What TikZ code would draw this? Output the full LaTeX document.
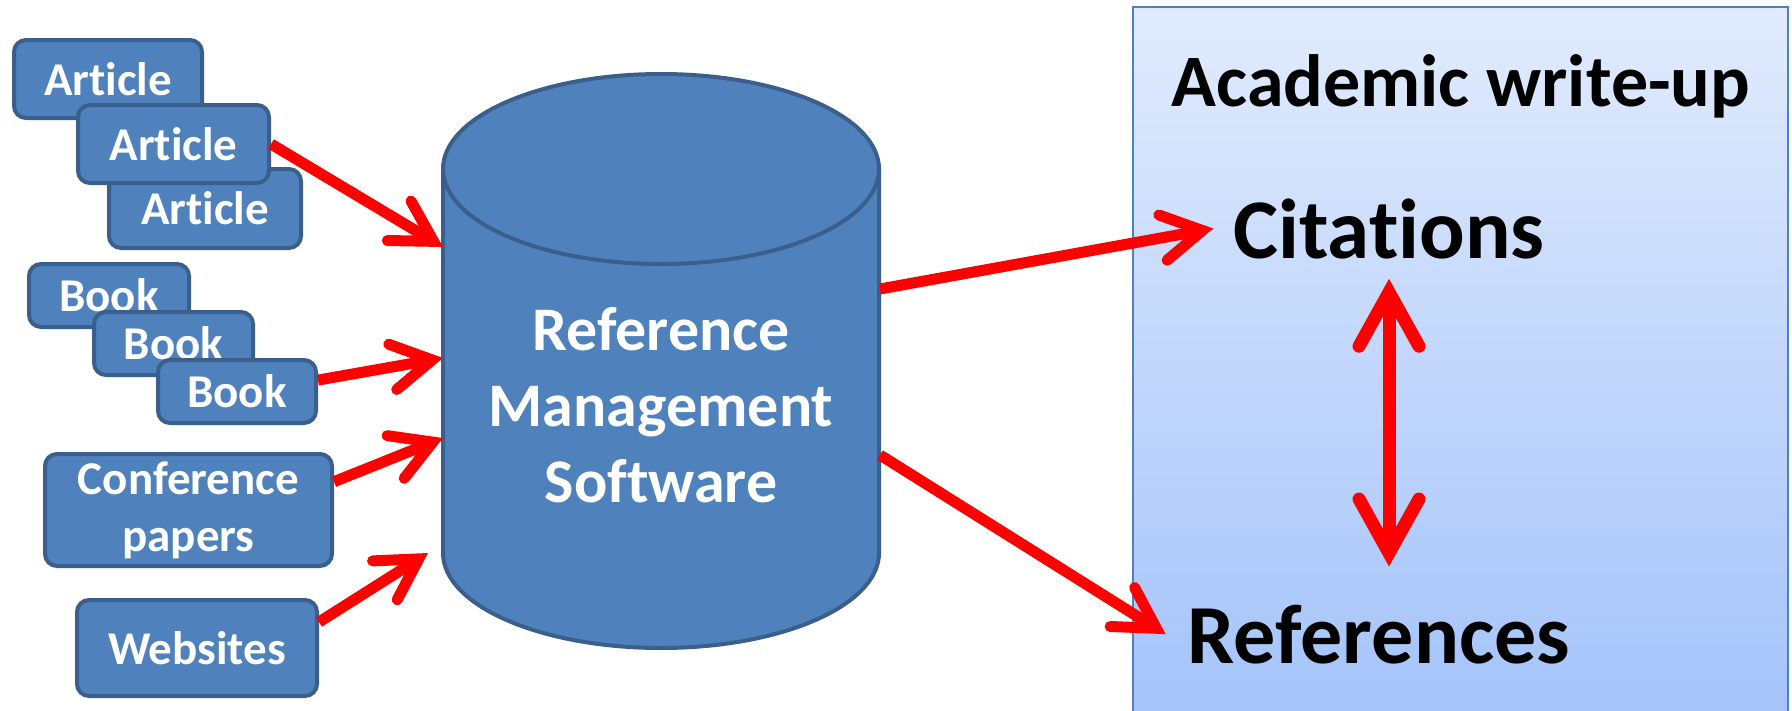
\documentclass[tikz,border=0pt]{standalone}
\usepackage{fontspec}
\setmainfont{Carlito}[Ligatures=NoCommon]
\usetikzlibrary{arrows.meta}
\definecolor{boxblue}{HTML}{4F81BD}
\definecolor{boxedge}{HTML}{3A5F8C}
\definecolor{paneltop}{HTML}{E1EBFD}
\definecolor{panelbot}{HTML}{A3C3FA}
\begin{document}
\begin{tikzpicture}[x=1pt,y=1pt,
  src/.style={draw=boxedge, fill=boxblue, line width=4pt, rounded corners=12pt,
    text=white, font=\bfseries\fontsize{47}{57}\selectfont, align=center, inner sep=0pt},
  cyl/.style={draw=boxedge, fill=boxblue, line width=4pt},
  cyltext/.style={text=white, font=\bfseries\fontsize{62}{76}\selectfont, align=center},
  panel/.style={top color=paneltop, bottom color=panelbot, draw=boxblue, line width=2.5pt},
  bigtext/.style={text=black, font=\bfseries\fontsize{#1}{#1}\selectfont, anchor=base, inner sep=20pt},
  redarr/.style={draw=red, line width=11pt,
    -{Straight Barb[length=40pt,width=46pt,line cap=round,line join=miter]}},
  dblarr/.style={draw=red, line width=13pt,
    {Straight Barb[length=54pt,width=60pt,line cap=round,line join=miter]}-{Straight Barb[length=54pt,width=60pt,line cap=round,line join=miter]}}
]
\useasboundingbox (0,0) rectangle (1792,-710);

% right panel
\path[panel] (1133,-7) rectangle (1788,-725);

% cylinder
\path[cyl] (443,-169) -- (443,-553)
  arc[start angle=180, end angle=360, x radius=218, y radius=95]
  -- (879,-169)
  arc[start angle=0, end angle=180, x radius=218, y radius=95] -- cycle;
\draw[cyl, fill=none] (443,-169) arc[start angle=180, end angle=360, x radius=218, y radius=95];
\node[cyltext] (rms) at (661,-405) {Reference\\Management\\Software};

% source boxes
\node[src, minimum width=188pt, minimum height=78pt] (art1) at (108,-79) {Article};
\node[src, minimum width=192pt, minimum height=79pt] (art3) at (205,-208.5) {Article};
\node[src, minimum width=191pt, minimum height=78pt] (art2) at (173.5,-144) {Article};
\node[src, minimum width=160pt, minimum height=63pt] (book1) at (109,-295.5) {Book};
\node[src, minimum width=159pt, minimum height=63pt] (book2) at (173.5,-343.5) {Book};
\node[src, minimum width=158pt, minimum height=63pt] (book3) at (237,-391.5) {Book};
\node[src, minimum width=287pt, minimum height=112pt] (conf) at (188.5,-510) {Conference\\papers};
\node[src, minimum width=240pt, minimum height=96pt] (web) at (197,-648) {Websites};

% panel texts
\node[bigtext=74, inner sep=0pt] (acad) at (1461,-106) {Academic write-up};
\node[bigtext=85] (cit) at (1389,-258) {Citations};
\node[bigtext=84, inner sep=22pt] (ref) at (1379,-663) {References};

% arrow end points on the cylinder
\coordinate (t1) at (443,-247);
\coordinate (t2) at (443,-358);
\coordinate (t3) at (443,-438);
\coordinate (t4) at (428,-553);
\coordinate (s5) at (880,-289);
\coordinate (s6) at (880,-455);

\draw[redarr] (art2.east) -- (t1);
\draw[redarr] (book3.8) -- (t2);
\draw[redarr] (conf.11) -- (t3);
\draw[redarr] (web.12) -- (t4);
\draw[redarr] (s5) -- (cit.west);
\draw[redarr] (s6) -- (ref.west);
\draw[dblarr, shorten >=16pt] (cit.south) -- (cit.south |- ref.north);
\end{tikzpicture}
\end{document}
